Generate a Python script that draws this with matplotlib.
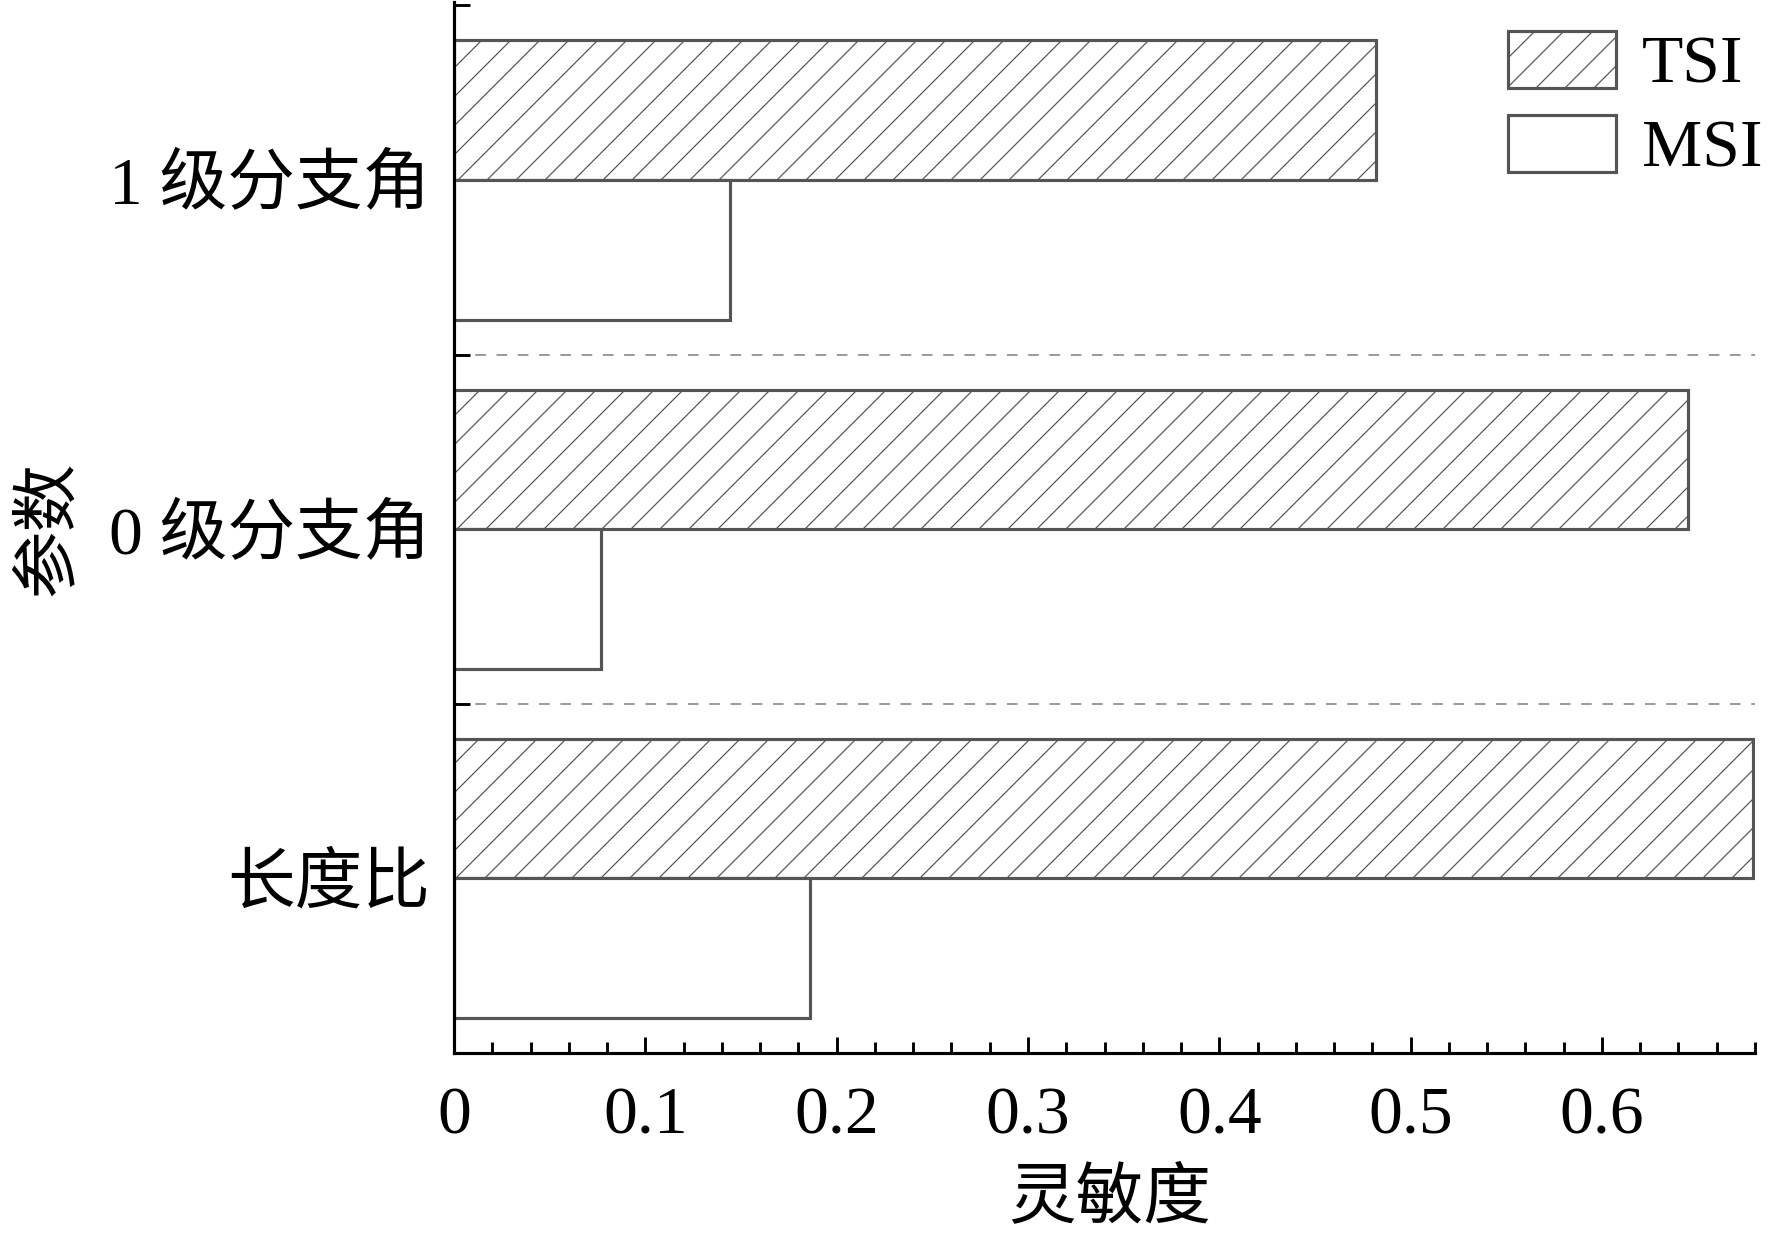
import matplotlib
matplotlib.use('Agg')
import matplotlib.pyplot as plt
import numpy as np

# parameters, bottom to top
params = ['长度比', '0 级分支角', '1 级分支角']
tsi = [0.679, 0.645, 0.482]
msi = [0.186, 0.077, 0.144]

plt.rcParams['font.family'] = ['Liberation Serif', 'Noto Sans CJK SC']
plt.rcParams['hatch.linewidth'] = 0.5
plt.rcParams['hatch.color'] = '#555555'

DPI = 174
fig = plt.figure(figsize=(1772 / DPI, 1235 / DPI), dpi=DPI)
ax = fig.add_axes([454 / 1772, 1 - 1053 / 1235, (1755 - 454) / 1772, (1053 - 2) / 1235])

y = np.arange(len(params))
h = 0.4
fs = 28
ax.barh(y + h / 2, tsi, height=h, color='white', edgecolor='#555555',
        linewidth=1.3, hatch='//', label='TSI', zorder=2)
ax.barh(y - h / 2, msi, height=h, color='white', edgecolor='#555555',
        linewidth=1.3, label='MSI', zorder=2)

# separators between groups
for s in [0.5, 1.5]:
    ax.axhline(s, color='#999999', lw=0.8, ls=(0, (5.5, 5.5)), zorder=1)

ax.set_xlim(0, 0.68)
ax.set_ylim(-0.5, 2.51)
ax.set_xticks(np.arange(0, 0.61, 0.1))
ax.set_xticklabels(['0', '0.1', '0.2', '0.3', '0.4', '0.5', '0.6'])
ax.set_xticks(np.arange(0, 0.681, 0.02), minor=True)
ax.set_yticks(y)
ax.set_yticklabels(params)
ax.set_yticks([-0.5, 0.5, 1.5, 2.5], minor=True)

for side in ['top', 'right']:
    ax.spines[side].set_visible(False)
for side in ['left', 'bottom']:
    ax.spines[side].set_linewidth(1.3)
    ax.spines[side].set_zorder(5)

ax.tick_params(axis='x', which='major', direction='in', length=6.6, width=1.2,
               labelsize=fs, pad=14)
ax.tick_params(axis='x', which='minor', direction='in', length=4.5, width=1.2)
ax.tick_params(axis='y', which='both', direction='in', length=6.5, width=1.2,
               labelsize=fs, pad=10)

fig.text(1110 / 1772, 1 - 1200 / 1235, '灵敏度', fontsize=fs, ha='center', va='center')
fig.text(50 / 1772, 1 - 528 / 1235, '参数', fontsize=fs, rotation=90, ha='center', va='center')

ax.legend(loc='upper right', bbox_to_anchor=(1762 / 1772, 1 - 31 / 1235),
          bbox_transform=fig.transFigure, frameon=False, fontsize=fs,
          handlelength=1.6, handleheight=0.92, handletextpad=0.37,
          labelspacing=0.27, borderpad=0, borderaxespad=0)

fig.savefig('out.png', dpi=DPI)
